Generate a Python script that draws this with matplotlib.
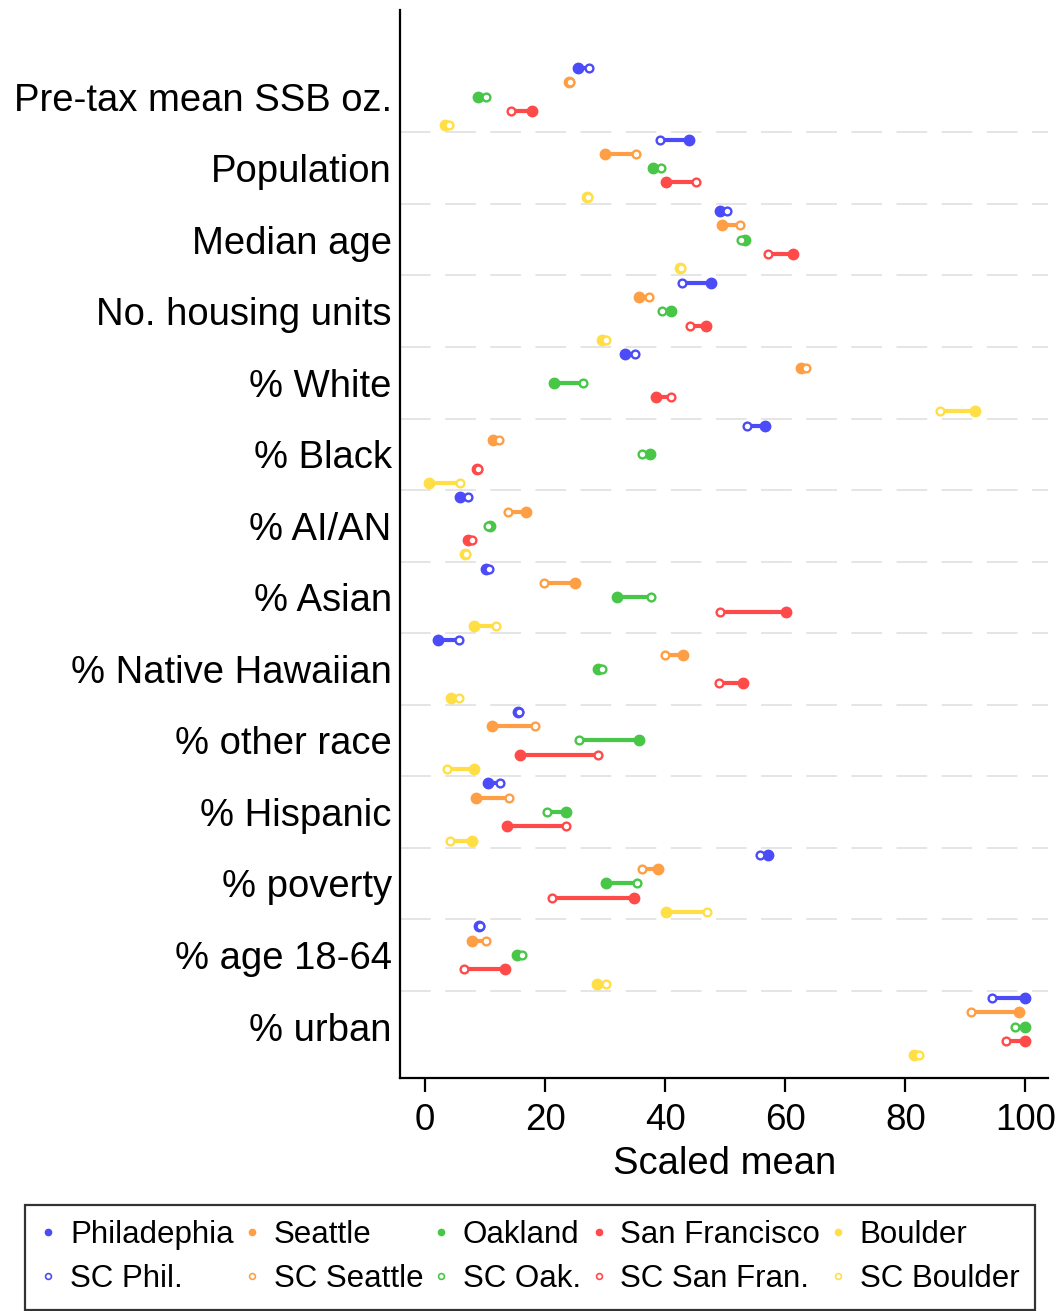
import matplotlib
matplotlib.use('Agg')
import matplotlib.pyplot as plt
from matplotlib.lines import Line2D

plt.rcParams['font.family'] = ['Liberation Sans', 'DejaVu Sans']

categories = ["Pre-tax mean SSB oz.", "Population", "Median age", "No. housing units",
              "% White", "% Black", "% AI/AN", "% Asian", "% Native Hawaiian",
              "% other race", "% Hispanic", "% poverty", "% age 18-64", "% urban"]
cities = ["Philadephia", "Seattle", "Oakland", "San Francisco", "Boulder"]
sc_labels = ["SC Phil.", "SC Seattle", "SC Oak.", "SC San Fran.", "SC Boulder"]
colors = ["#4B4BF7", "#FF9F45", "#48C648", "#FF4A4A", "#FFDF45"]

city_phil = [25.5, 43.9, 49.1, 47.6, 33.3, 56.6, 5.8, 10.2, 2.2, 15.5, 10.5, 57.2, 9.0, 100.0]
sc_phil = [27.3, 39.1, 50.3, 42.8, 34.9, 53.7, 7.1, 10.7, 5.6, 15.6, 12.5, 55.8, 9.2, 94.5]
city_seattle = [23.9, 29.9, 49.5, 35.6, 62.7, 11.4, 16.8, 25.0, 42.9, 11.1, 8.5, 38.8, 7.9, 99.0]
sc_seattle = [24.2, 35.1, 52.4, 37.3, 63.5, 12.3, 13.8, 19.8, 40.0, 18.3, 14.0, 36.2, 10.1, 90.9]
city_oakland = [8.8, 37.9, 53.3, 40.9, 21.5, 37.4, 10.8, 32.0, 28.8, 35.7, 23.5, 30.2, 15.4, 100.0]
sc_oakland = [10.1, 39.3, 52.6, 39.5, 26.3, 36.1, 10.5, 37.6, 29.5, 25.7, 20.3, 35.3, 16.1, 98.3]
city_sf = [17.8, 40.1, 61.3, 46.8, 38.4, 8.7, 7.2, 60.2, 52.9, 15.8, 13.6, 34.8, 13.3, 100.0]
sc_sf = [14.3, 45.1, 57.2, 44.2, 41.0, 8.9, 7.9, 49.2, 49.0, 28.8, 23.4, 21.1, 6.5, 96.7]
city_boulder = [3.4, 26.9, 42.5, 29.5, 91.6, 0.7, 6.7, 8.1, 4.4, 8.1, 7.8, 40.1, 28.7, 81.5]
sc_boulder = [4.0, 27.1, 42.6, 30.2, 85.8, 5.8, 6.9, 11.9, 5.6, 3.7, 4.1, 46.9, 30.1, 82.3]

city_vals = [city_phil, city_seattle, city_oakland, city_sf, city_boulder]
sc_vals = [sc_phil, sc_seattle, sc_oakland, sc_sf, sc_boulder]

n_cat = len(categories)
n_city = len(cities)

fig = plt.figure(figsize=(10.61, 13.11), dpi=100)
ax = fig.add_axes([0.377, 0.1777, 0.611, 0.8147])

# separators
for g in range(1, n_cat):
    ax.axhline(g * n_city - 0.5, color="#E3E3E3", lw=1.3, dashes=(17, 8), zorder=0)

for c in range(n_city):
    ys = [g * n_city + c for g in range(n_cat)]
    for g in range(n_cat):
        ax.plot([city_vals[c][g], sc_vals[c][g]], [ys[g], ys[g]], color=colors[c],
                lw=3.0, solid_capstyle='butt', zorder=2)
    ax.plot(city_vals[c], ys, 'o', color=colors[c], ms=7.5, mec=colors[c], zorder=3)
    ax.plot(sc_vals[c], ys, 'o', mfc='white', mec=colors[c], ms=5.6, mew=1.7, zorder=4)

ax.set_ylim(70.6, -4.06)
ax.set_xlim(-4.17, 103.8)
ax.set_yticks([g * n_city + 2 for g in range(n_cat)])
ax.set_yticklabels(categories, fontsize=27.5)
ax.tick_params(axis='y', length=0, pad=6)
ax.set_xticks([0, 20, 40, 60, 80, 100])
ax.tick_params(axis='x', labelsize=26.5, length=10, width=1.6, pad=8, color='black')
ax.set_xlabel("Scaled mean", fontsize=27.5, labelpad=6)
for s in ['top', 'right']:
    ax.spines[s].set_visible(False)
for s in ['left', 'bottom']:
    ax.spines[s].set_linewidth(1.6)

handles = []
labels = []
for c in range(n_city):
    handles.append(Line2D([], [], marker='o', ls='', color=colors[c], ms=4.5))
    labels.append(cities[c])
    handles.append(Line2D([], [], marker='o', ls='', mfc='white', mec=colors[c], ms=4.2, mew=1.2))
    labels.append(sc_labels[c])

leg = fig.legend(handles, labels, ncol=5, loc='lower left',
                 bbox_to_anchor=(0.0236, 0.0008, 0.952, 0.0), mode='expand',
                 borderaxespad=0, fontsize=22.5, frameon=True, fancybox=False,
                 edgecolor='black', handlelength=0.5, handletextpad=0.45,
                 labelspacing=0.45, borderpad=0.5, columnspacing=0.6)
leg.get_frame().set_linewidth(1.6)

fig.savefig("out.png", dpi=100)
